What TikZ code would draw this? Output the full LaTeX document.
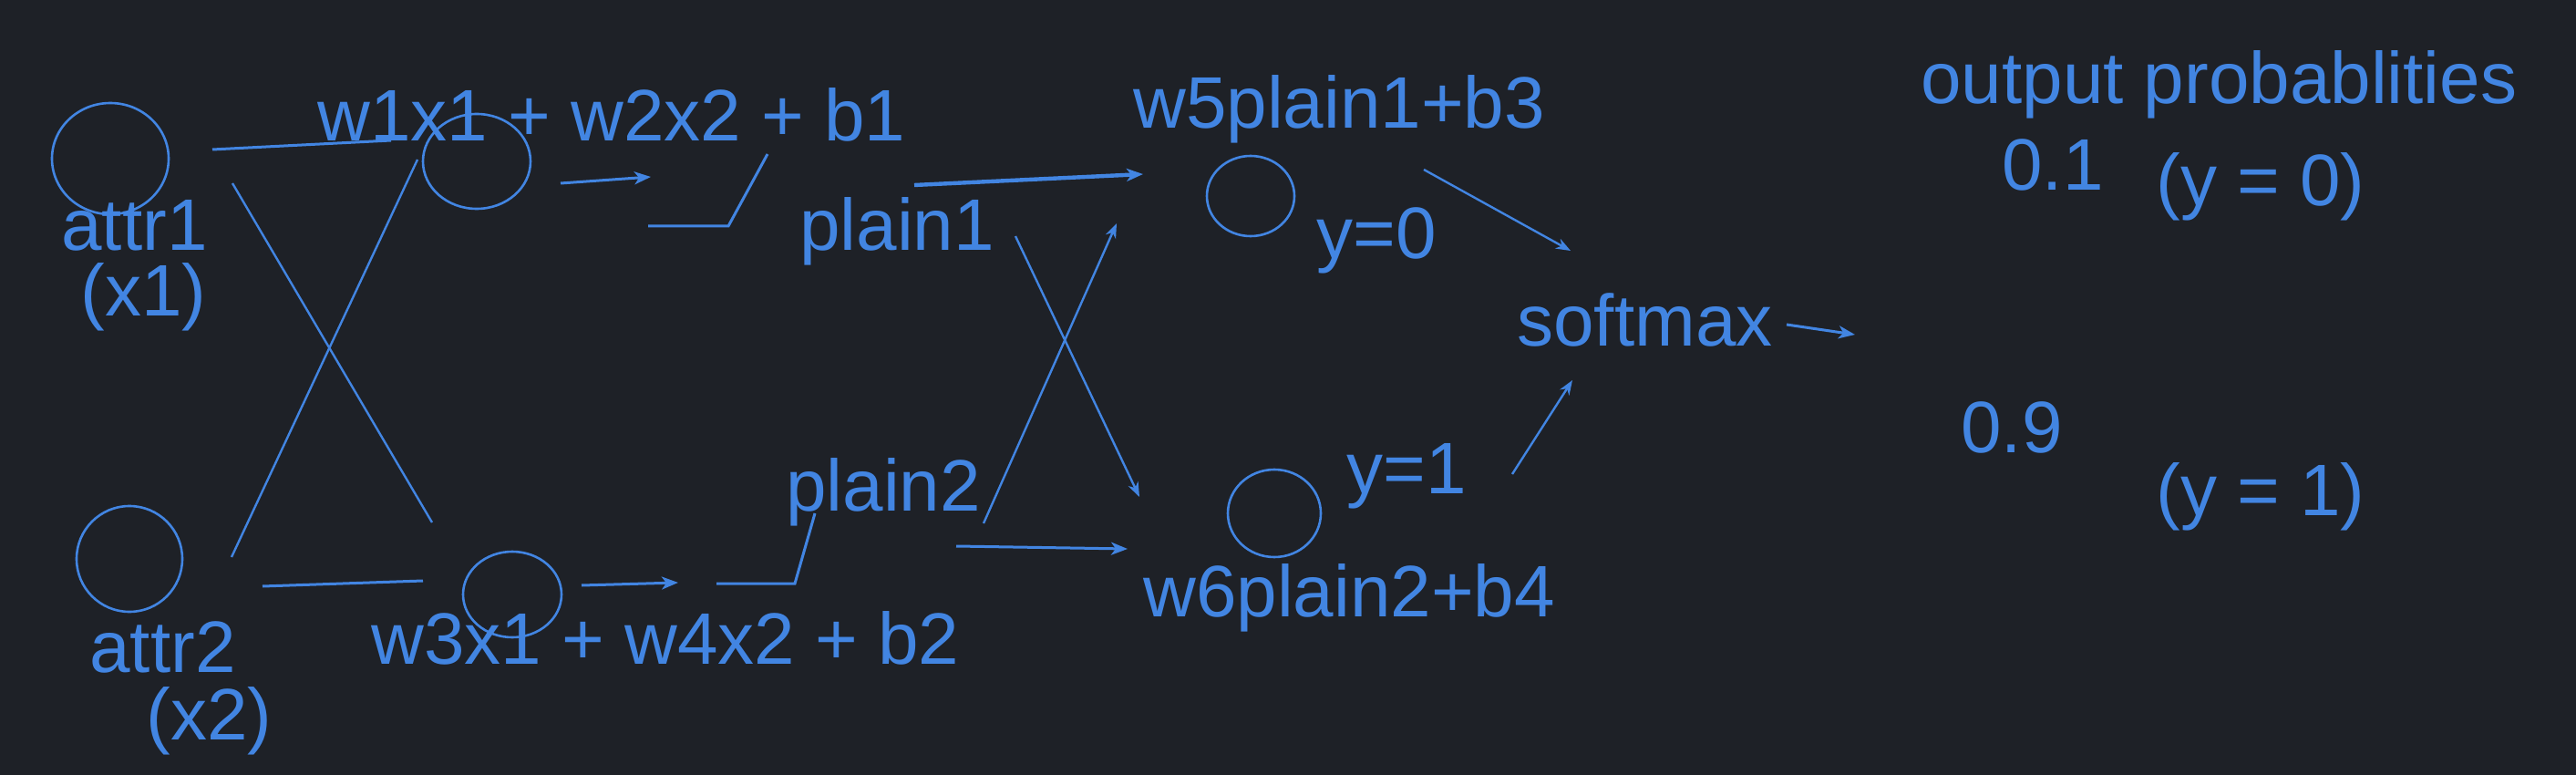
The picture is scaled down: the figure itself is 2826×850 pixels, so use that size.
\documentclass[tikz,border=0pt]{standalone}
\usepackage{fontspec}
\setmainfont{Liberation Sans}
\usetikzlibrary{arrows.meta}
\definecolor{bgc}{RGB}{30,33,39}
\definecolor{bl}{RGB}{66,133,226}
\begin{document}
\begin{tikzpicture}[x=0.5pt,y=-0.5pt,
  lbl/.style={inner sep=0pt,anchor=base west,text=bl,font=\fontsize{40}{48}\selectfont},
  neuron/.style={draw=bl,line width=1.3pt},
  wire/.style={draw=bl,line width=1.5pt},
  thin/.style={draw=bl,line width=1.2pt},
  arr/.style={draw=bl,line width=1.5pt,-{Stealth[length=9pt,width=7pt,inset=2.5pt]}},
  thinarr/.style={draw=bl,line width=1.2pt,-{Stealth[length=8pt,width=6pt,inset=2.5pt]}}]
\useasboundingbox (0,0) rectangle (2826,850);
\fill[bgc] (0,0) rectangle (2826,850);
% neurons
\draw[neuron] (121,174) ellipse [x radius=64, y radius=61];
\draw[neuron] (142,613) ellipse [x radius=58, y radius=58];
\draw[neuron] (523,177) ellipse [x radius=59, y radius=52];
\draw[neuron] (562,652) ellipse [x radius=54, y radius=47];
\draw[neuron] (1372,215) ellipse [x radius=48, y radius=44];
\draw[neuron] (1398,563) ellipse [x radius=51, y radius=48];
% labels
\node[lbl] (t1) at (348,155) {w1x1 + w2x2 + b1};
\node[lbl] (a1) at (67,275) {attr1};
\node[lbl] (x1) at (88,346) {(x1)};
\node[lbl] (a2) at (98,737) {attr2};
\node[lbl] (x2) at (160,811) {(x2)};
\node[lbl] (t2) at (407,728) {w3x1 + w4x2 + b2};
\node[lbl] (p1) at (877,275) {plain1};
\node[lbl] (p2) at (862,560) {plain2};
\node[lbl] (t3) at (1243,141) {w5plain1+b3};
\node[lbl] (y0) at (1444,284) {y=0};
\node[lbl] (sm) at (1664,379) {softmax};
\node[lbl] (t4) at (1254,676) {w6plain2+b4};
\node[lbl] (y1) at (1477,541) {y=1};
\node[lbl] (op) at (2107,114) {output probablities};
\node[lbl] (v1) at (2196,209) {0.1};
\node[lbl] (c0) at (2365,226) {(y = 0)};
\node[lbl] (v9) at (2151,496) {0.9};
\node[lbl] (c1) at (2365,565) {(y = 1)};
% coordinates
\coordinate (a1o) at (233,164); \coordinate (w1i) at (429,154);
\coordinate (a1x) at (255,201); \coordinate (h2x) at (474,573);
\coordinate (a2x) at (254,611); \coordinate (h1x) at (458,175);
\coordinate (a2o) at (288,643); \coordinate (w3i) at (464,637);
\coordinate (h1o) at (615,201); \coordinate (h1e) at (714,194);
\coordinate (r1a) at (711,248); \coordinate (r1b) at (799,248); \coordinate (r1c) at (842,169);
\coordinate (h2o) at (638,642); \coordinate (h2e) at (744,639);
\coordinate (r2a) at (786,640); \coordinate (r2b) at (872,640); \coordinate (r2c) at (894,563);
\coordinate (p1a) at (1003,203); \coordinate (w5a) at (1254,191);
\coordinate (p1b) at (1114,259); \coordinate (w6b) at (1250,545);
\coordinate (p2a) at (1079,574); \coordinate (w5b) at (1225,245);
\coordinate (p2b) at (1049,599); \coordinate (w6a) at (1237,602);
\coordinate (w5o) at (1562,186); \coordinate (sma) at (1723,275);
\coordinate (y1o) at (1659,520); \coordinate (smb) at (1725,417);
\coordinate (smo) at (1960,356); \coordinate (oute) at (2035,367);
% connectors
\draw[wire] (a1o) -- (w1i);
\draw[thin] (a1x) -- (h2x);
\draw[thin] (a2x) -- (h1x);
\draw[wire] (a2o) -- (w3i);
\draw[arr] (h1o) -- (h1e);
\draw[wire] (r1a) -- (r1b) -- (r1c);
\draw[arr] (h2o) -- (h2e);
\draw[wire] (r2a) -- (r2b) -- (r2c);
\draw[arr,line width=2.2pt] (p1a) -- (w5a);
\draw[thinarr] (p1b) -- (w6b);
\draw[thinarr] (p2a) -- (w5b);
\draw[arr] (p2b) -- (w6a);
\draw[thinarr] (w5o) -- (sma);
\draw[thinarr] (y1o) -- (smb);
\draw[arr] (smo) -- (oute);
\end{tikzpicture}
\end{document}
